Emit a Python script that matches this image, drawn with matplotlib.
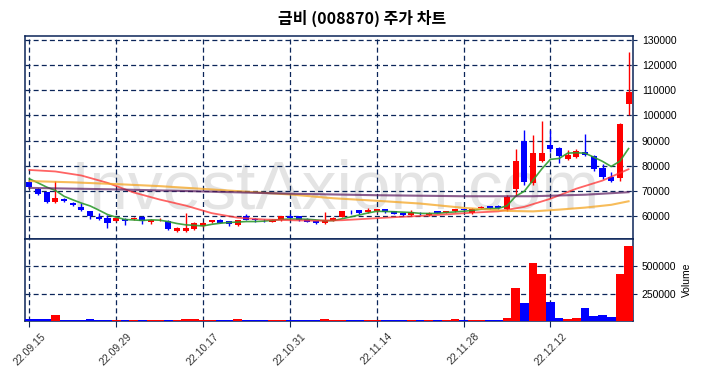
import numpy as np
import pandas as pd
import matplotlib.pyplot as plt

plt.rcParams['font.family'] = ['Liberation Sans', 'Noto Sans CJK KR', 'DejaVu Sans']

dates = pd.bdate_range('2022-09-15', '2022-12-23', freq='C',
                       holidays=['2022-10-03', '2022-10-10'])

opens = [73600, 71000, 69600, 65700, 67100, 65500, 63800, 62000, 59900, 59300,
         58100, 59100, 58800, 59700, 57750, 58500, 58200, 54200, 54200, 55000,
         56300, 57800, 58400, 58000, 56700, 60000, 59100, 58600, 57900, 58600,
         60000, 60000, 59100, 58000, 57400, 58200, 59700, 61800, 62400, 61600,
         62100, 62800, 62000, 61300, 60500, 61400, 60500, 62100, 61500, 62000,
         63100, 61300, 63200, 64000, 64200, 62900, 71000, 89800, 73200, 82100,
         88100, 87200, 82600, 83500, 85700, 84100, 79100, 75800, 75100, 104600]
highs = [73800, 71200, 69800, 74000, 67400, 65600, 65400, 62300, 61300, 60500,
         59500, 59300, 59700, 60000, 58900, 59500, 58400, 55800, 61200, 57800,
         57900, 58600, 58800, 58200, 58600, 61000, 59200, 59100, 58900, 60300,
         61000, 60300, 59300, 58200, 61700, 59700, 62200, 62700, 62500, 63300,
         63000, 63000, 62200, 61400, 62700, 61900, 61600, 62300, 62300, 63100,
         63400, 63300, 64000, 64300, 64500, 68600, 86700, 94400, 92300, 97600,
         94400, 87400, 86200, 86700, 92700, 84400, 80600, 77500, 96800, 125200]
lows = [71400, 68600, 65300, 65500, 65800, 64300, 62000, 58800, 58700, 55400,
        58000, 56700, 58400, 57200, 57200, 58000, 54500, 53800, 54000, 54800,
        56000, 57600, 57300, 56400, 56300, 58400, 57700, 57900, 57700, 58300,
        59200, 58300, 57700, 57000, 57200, 58000, 59600, 60800, 61000, 61400,
        61900, 61400, 60900, 60300, 60300, 60700, 60300, 61200, 61300, 61900,
        62200, 61100, 63000, 63100, 63100, 62100, 68000, 72600, 72500, 81500,
        85700, 81200, 82200, 83300, 84000, 77800, 74800, 73800, 74200, 100000]
closes = [71600, 69000, 65700, 67400, 66200, 64600, 62500, 60100, 59100, 57500,
          59300, 58000, 59200, 58000, 58700, 58700, 55200, 55400, 55400, 57600,
          57600, 58400, 57600, 56900, 58400, 58600, 58400, 58400, 58700, 60000,
          59400, 58400, 57900, 57400, 58500, 59500, 62100, 61600, 61300, 62400,
          62800, 61700, 61100, 60500, 61600, 61200, 61400, 61400, 62100, 62900,
          62400, 63100, 63700, 63400, 63300, 67500, 82100, 73600, 85300, 85300,
          86700, 83800, 84200, 86100, 84300, 78900, 75500, 74100, 96400, 109400]
volumes = [15000, 15000, 15000, 55000, 6000, 5000, 6000, 14000, 6000, 7000,
           8000, 5000, 7000, 5000, 8000, 7000, 6000, 9000, 14000, 14000,
           8000, 7000, 5000, 6000, 15000, 6000, 5000, 5000, 8000, 7000,
           5000, 6000, 5000, 5000, 16000, 9000, 10000, 6000, 7000, 9000,
           8000, 6000, 6000, 7000, 8000, 6000, 9000, 8000, 10000, 19000,
           8000, 12000, 8000, 7000, 9000, 28000, 303000, 167000, 534000, 435000,
           176000, 25000, 16000, 25000, 118000, 44000, 53000, 34000, 435000, 685000]
prior_closes = [77000, 74200, 73900, 77800]

# moving averages (index, value)
ma20_idx = [0, 3, 6, 9, 12, 15, 18, 21, 24, 27, 30, 33, 36, 39, 42, 45, 48, 51, 54, 57, 60, 63, 66, 69]
ma20_val = [78400, 77800, 76200, 73300, 69500, 66700, 64300, 61300, 59500, 58800, 58500, 58300,
            58500, 59100, 59700, 60200, 60800, 61500, 62000, 63800, 67000, 71000, 74200, 78700]
ma60_idx = [0, 5, 10, 15, 20, 25, 30, 35, 40, 45, 50, 55, 58, 61, 64, 67, 69]
ma60_val = [74000, 73500, 72800, 72000, 70900, 69800, 68700, 67200, 66200, 65100, 63400, 62200,
            62000, 62700, 63500, 64600, 66000]
ma120_idx = [0, 10, 20, 30, 40, 50, 58, 64, 69]
ma120_val = [71300, 70700, 69900, 69000, 68400, 68000, 68000, 68600, 69600]

ma5 = pd.Series(prior_closes + closes).rolling(5).mean().values[4:]

navy = '#0b2559'
x = np.arange(len(closes))
up = np.array(closes) >= np.array(opens)
colors = np.where(up, '#ff0000', '#0000ff')

fig = plt.figure(figsize=(7.04, 3.78), dpi=100)
ax = fig.add_axes([0.0355, 0.368, 0.8635, 0.537])
axv = fig.add_axes([0.0355, 0.151, 0.8635, 0.217], sharex=ax)

# candles
ax.vlines(x, lows, highs, colors=colors, lw=1, zorder=3)
body = np.abs(np.array(closes) - np.array(opens))
ax.bar(x, np.maximum(body, 250), bottom=np.minimum(opens, closes), width=0.7,
       color=colors, zorder=4)

ax.plot(x, ma5, color='#2e9b2e', lw=1.2, alpha=0.9, zorder=5)
ax.plot(ma20_idx, ma20_val, color='#ff3030', lw=1.3, alpha=0.75, zorder=5)
ax.plot(ma60_idx, ma60_val, color='#f5a623', lw=1.5, alpha=0.75, zorder=5)
ax.plot(ma120_idx, ma120_val, color='#5a1a5e', lw=1.5, alpha=0.7, zorder=5)

ax.text(0.51, 0.24, 'InvestAxiom.com', transform=ax.transAxes, ha='center', va='center',
        fontsize=50, color='#e4e4e4', zorder=1, family='Liberation Sans')

ax.set_ylim(min(lows) * 0.95, max(highs) * 1.05)
ax.set_xlim(-0.5, len(closes) - 0.5)
ax.yaxis.tick_right()
ax.set_yticks(np.arange(60000, 130001, 10000))
ax.tick_params(axis='y', labelsize=7.5, length=3, color=navy)
ax.tick_params(axis='x', bottom=False, labelbottom=False)
ax.grid(True, color=navy, ls=(0, (4, 2.5)), lw=0.9)

# volume
axv.bar(x, volumes, width=1.0, color=colors, zorder=3)
axv.set_ylim(0, max(volumes) * 1.1)
axv.yaxis.tick_right()
axv.yaxis.set_label_position('right')
axv.set_yticks([250000, 500000])
axv.set_ylabel('Volume', fontsize=7.5)
axv.tick_params(axis='y', labelsize=7.5, length=3, color=navy)
axv.grid(True, color=navy, ls=(0, (4, 2.5)), lw=0.9)

ticks = x[::10]
axv.set_xticks(ticks)
axv.set_xticklabels([dates[i].strftime('%y.%m.%d') for i in ticks],
                    rotation=45, ha='center', fontsize=7.5, color='#333333')
axv.tick_params(axis='x', length=4, color=navy)

for a in (ax, axv):
    for s in a.spines.values():
        s.set_color(navy)
        s.set_linewidth(1.1)

fig.suptitle('금비 (008870) 주가 차트', x=0.514, y=0.975, fontsize=11.5, fontweight='bold',
             family=['Noto Sans CJK KR'])

fig.savefig('out.png', dpi=100)
